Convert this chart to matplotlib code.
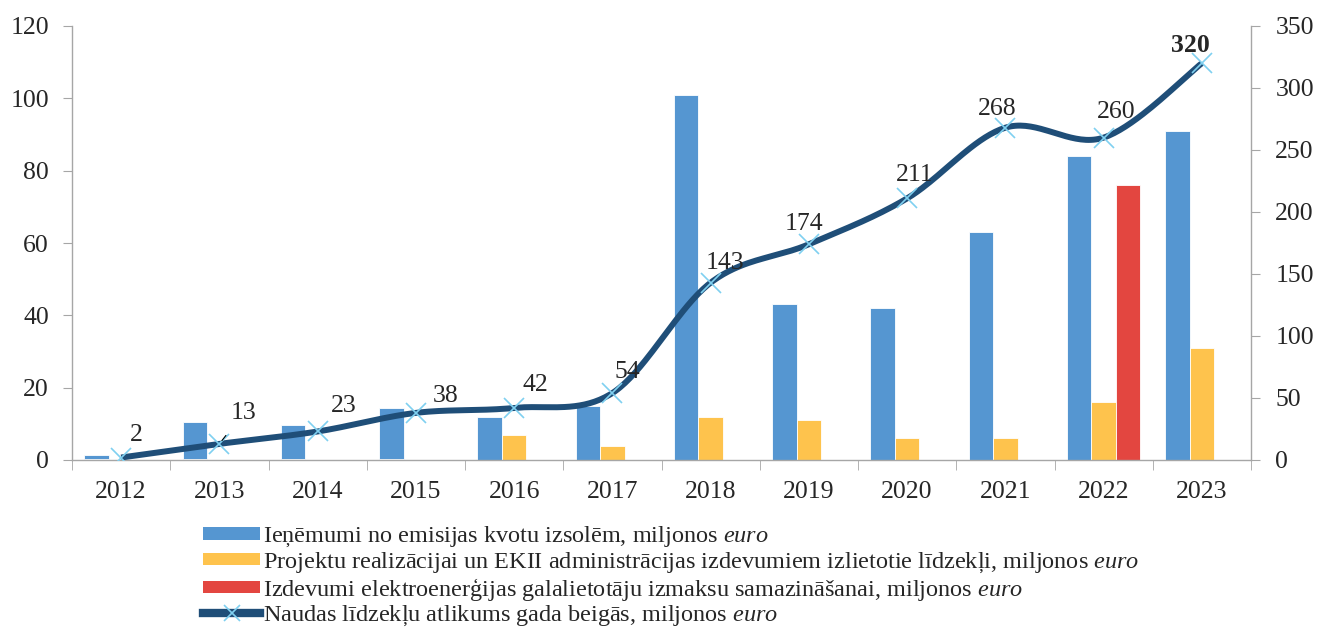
import numpy as np
import matplotlib
matplotlib.use("Agg")
import matplotlib.pyplot as plt
from matplotlib.lines import Line2D
from matplotlib.patches import Patch

years = ["2012", "2013", "2014", "2015", "2016", "2017", "2018", "2019", "2020", "2021", "2022", "2023"]
revenue = [1.4, 10.5, 9.6, 14.5, 12, 15, 101, 43, 42, 63, 84, 91]
revenue_bottom = [0.4, 0.4, 0.4, 0.4, 0, 0, 0, 0, 0, 0, 0, 0]
projects = [0, 0, 0, 0, 7, 4, 12, 11, 6, 6, 16, 31]
electricity = [0, 0, 0, 0, 0, 0, 0, 0, 0, 0, 76, 0]
balance = [2, 13, 23, 38, 42, 54, 143, 174, 211, 268, 260, 320]
# label offsets in pixels (dx, dy) relative to each point
label_off = [(15, 23), (24, 31), (26, 25), (30, 17), (21, 23), (15, 21),
             (14, 20), (-5, 20), (8, 23), (-8, 19), (13, 26), (-11, 18)]

leg_labels = [
    "Ieņēmumi no emisijas kvotu izsolēm, miljonos $\\mathit{euro}$",
    "Projektu realizācijai un EKII administrācijas izdevumiem izlietotie līdzekļi, miljonos $\\mathit{euro}$",
    "Izdevumi elektroenerģijas galalietotāju izmaksu samazināšanai, miljonos $\\mathit{euro}$",
    "Naudas līdzekļu atlikums gada beigās, miljonos $\\mathit{euro}$",
]

plt.rcParams['font.family'] = ['Liberation Serif', 'DejaVu Serif']
plt.rcParams['mathtext.fontset'] = 'custom'
plt.rcParams['mathtext.rm'] = 'Liberation Serif'
plt.rcParams['mathtext.it'] = 'Liberation Serif:italic'

c_blue = '#5596d1'
c_yel = '#fec34d'
c_red = '#e34640'
c_line = '#1f4e78'
c_mark = '#7fd0f0'
c_axis = '#a6a6a6'
c_text = '#262626'
fs = 18.5

fig = plt.figure(figsize=(13.17, 6.28), dpi=100)
ax = fig.add_axes([72/1317, 1-460/628, (1251-72)/1317, (460-26)/628])
ax2 = ax.twinx()

x = np.arange(len(years))
w = 0.25
rev_h = [r - b for r, b in zip(revenue, revenue_bottom)]
ax.bar(x - w, rev_h, w, bottom=revenue_bottom, color=c_blue, edgecolor='white', linewidth=0.6)
ax.bar(x, projects, w, color=c_yel, edgecolor='white', linewidth=0.6)
ax.bar(x + w, electricity, w, color=c_red, edgecolor='white', linewidth=0.6)

# smooth curve (Excel-style Bezier smoothing through the points)
pts = np.column_stack([x, balance]).astype(float)
curve = []
n = len(pts)
for i in range(n - 1):
    p0 = pts[i - 1] if i > 0 else pts[i]
    p1 = pts[i]
    p2 = pts[i + 1]
    p3 = pts[i + 2] if i + 2 < n else pts[i + 1]
    c1 = p1 + (p2 - p0) / 6.0
    c2 = p2 - (p3 - p1) / 6.0
    t = np.linspace(0, 1, 40)[:, None]
    seg = (1 - t) ** 3 * p1 + 3 * (1 - t) ** 2 * t * c1 + 3 * (1 - t) * t ** 2 * c2 + t ** 3 * p2
    curve.append(seg if i == 0 else seg[1:])
curve = np.vstack(curve)
ax2.plot(curve[:, 0], curve[:, 1], color=c_line, lw=4.3, solid_capstyle='butt', zorder=3)
ax2.plot(x, balance, ls='none', marker='x', ms=15, mew=1.2, color=c_mark, zorder=4)

for i, (xi, v) in enumerate(zip(x, balance)):
    dx, dy = label_off[i]
    kw = dict(fontweight='bold') if i == n - 1 else {}
    if i == 1:
        ax2.annotate(str(v), (xi, v), xytext=(dx, dy), textcoords='offset pixels',
                     ha='center', va='center', fontsize=fs, color=c_text,
                     arrowprops=dict(arrowstyle='-', color='black', lw=0.8,
                                     shrinkA=8, shrinkB=3), zorder=5)
    else:
        ax2.annotate(str(v), (xi, v), xytext=(dx, dy), textcoords='offset pixels',
                     ha='center', va='center', fontsize=fs, color=c_text, zorder=5, **kw)

ax.set_xlim(-0.5, len(years) - 0.5)
ax.set_ylim(0, 120)
ax2.set_ylim(0, 350)
ax.set_yticks(np.arange(0, 121, 20))
ax2.set_yticks(np.arange(0, 351, 50))
ax.set_xticks(x)
ax.set_xticklabels(years)
ax.set_xticks(np.arange(-0.5, len(years), 1), minor=True)

for a in (ax, ax2):
    a.spines['top'].set_visible(False)
    for s in ('left', 'right', 'bottom'):
        a.spines[s].set_color(c_axis)
        a.spines[s].set_linewidth(1.0)
ax.spines['right'].set_visible(False)
ax2.spines['left'].set_visible(False)
ax2.spines['bottom'].set_visible(False)

ax.tick_params(axis='y', direction='out', length=6.5, color=c_axis, labelsize=fs,
               labelcolor=c_text, pad=10)
ax2.tick_params(axis='y', direction='out', length=6.5, color=c_axis, labelsize=fs,
                labelcolor=c_text, pad=11)
ax.tick_params(axis='x', which='major', length=0, labelsize=fs, labelcolor=c_text, pad=15)
ax.tick_params(axis='x', which='minor', direction='out', length=7, color=c_axis)

handles = [
    Patch(facecolor=c_blue, edgecolor='none'),
    Patch(facecolor=c_yel, edgecolor='none'),
    Patch(facecolor=c_red, edgecolor='none'),
    Line2D([], [], color=c_line, lw=6, marker='x', ms=12, mew=1.2,
           markeredgecolor=c_mark),
]
fig.legend(handles, leg_labels, loc='upper left', bbox_to_anchor=(203/1317, 1-525/628),
           frameon=False, fontsize=17.5, handlelength=2.35, handleheight=0.4,
           handletextpad=0.12, labelspacing=0.04, borderpad=0, borderaxespad=0,
           labelcolor=c_text)

fig.savefig('out.png', dpi=100)
